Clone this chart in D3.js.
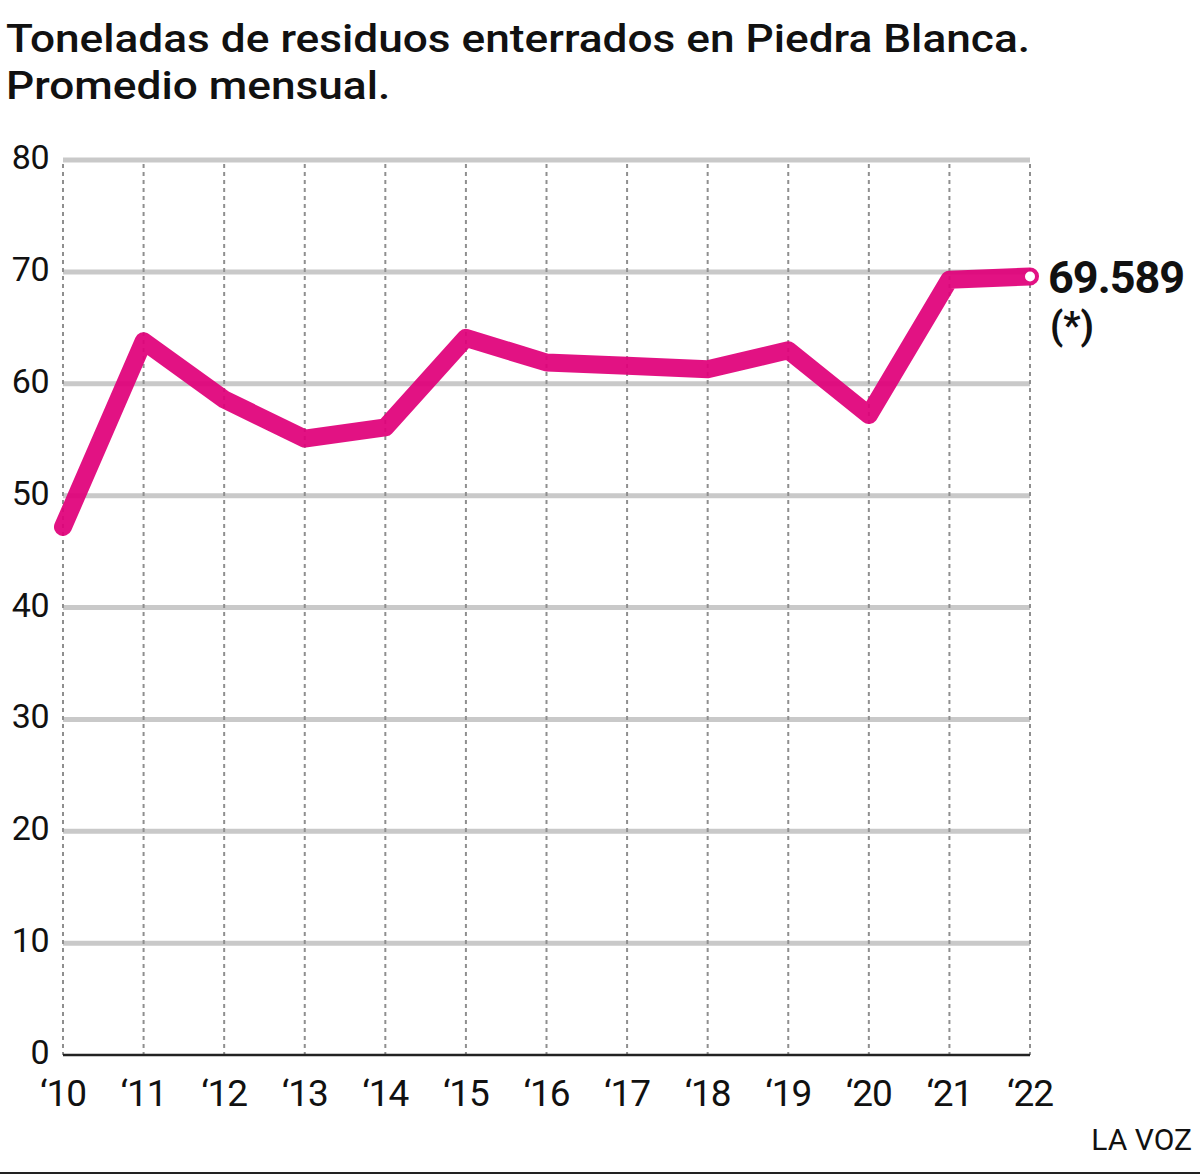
<!DOCTYPE html>
<html>
<head>
<meta charset="utf-8">
<script src="https://cdn.jsdelivr.net/npm/d3@7"></script>
<style>
  body { margin: 0; background: #fff; }
  text { font-family: Roboto, "Noto Sans", sans-serif; fill: #111; }
</style>
</head>
<body>
<div id="chart"></div>
<script>
// data
const years = ['10', '11', '12', '13', '14', '15', '16', '17', '18', '19', '20', '21', '22'];
const values = [47.2, 63.8, 58.6, 55.1, 56.1, 64.1, 61.9, 61.6, 61.3, 63.0, 57.2, 69.3, 69.589];
const yTicks = [0, 10, 20, 30, 40, 50, 60, 70, 80];
const titleLines = ['Toneladas de residuos enterrados en Piedra Blanca.', 'Promedio mensual.'];

const W = 1200, H = 1175;

const svg = d3.select('#chart')
  .append('svg')
    .attr('width', W)
    .attr('height', H);

const x = d3.scalePoint().domain(years).range([63, 1030]);
const y = d3.scaleLinear().domain([0, 80]).range([1055, 160]);

// title, squeezed so line one spans what it does in the reference
const titles = svg.selectAll('text.title')
    .data(titleLines)
    .enter()
    .append('text')
      .attr('class', 'title')
      .attr('x', 6)
      .attr('y', (d, i) => 52 + i * 47)
      .attr('font-size', 39.5)
      .attr('font-weight', 500)
      .text(d => d);

const firstLen = titles.nodes()[0].getComputedTextLength();
const squeeze = 1024 / firstLen;
titles.each(function () {
  d3.select(this)
    .attr('textLength', this.getComputedTextLength() * squeeze)
    .attr('lengthAdjust', 'spacingAndGlyphs');
});

// horizontal grid lines
svg.append('g')
  .selectAll('line')
  .data(yTicks.filter(t => t > 0))
  .enter()
  .append('line')
    .attr('x1', x('10'))
    .attr('x2', x('22'))
    .attr('y1', d => y(d))
    .attr('y2', d => y(d))
    .attr('stroke', '#c9c9c9')
    .attr('stroke-width', 5);

// vertical dotted lines
svg.append('g')
  .selectAll('line')
  .data(years)
  .enter()
  .append('line')
    .attr('x1', d => x(d))
    .attr('x2', d => x(d))
    .attr('y1', y(80) + 4)
    .attr('y2', y(0))
    .attr('stroke', '#8f8f8f')
    .attr('stroke-width', 2)
    .attr('stroke-dasharray', '4,4');

// base line
svg.append('line')
    .attr('x1', x('10'))
    .attr('x2', x('22'))
    .attr('y1', y(0))
    .attr('y2', y(0))
    .attr('stroke', '#222')
    .attr('stroke-width', 2.5);

// y labels
svg.append('g')
  .selectAll('text')
  .data(yTicks)
  .enter()
  .append('text')
    .attr('x', 49)
    .attr('y', d => y(d) + 9)
    .attr('text-anchor', 'end')
    .attr('font-size', 34)
    .attr('letter-spacing', -0.5)
    .text(d => d);

// x labels
svg.append('g')
  .selectAll('text')
  .data(years)
  .enter()
  .append('text')
    .attr('x', d => x(d))
    .attr('y', 1106)
    .attr('text-anchor', 'middle')
    .attr('font-size', 37)
    .attr('letter-spacing', -1)
    .text(d => '\u2018' + d);

// the series line
const line = d3.line()
  .x((d, i) => x(years[i]))
  .y(d => y(d));

svg.append('path')
    .datum(values)
    .attr('d', line)
    .attr('fill', 'none')
    .attr('stroke', '#e0007a')
    .attr('stroke-opacity', 0.93)
    .attr('stroke-width', 18)
    .attr('stroke-linejoin', 'round')
    .attr('stroke-linecap', 'round');

// end marker
const last = values[values.length - 1];
svg.append('circle')
    .attr('cx', x('22'))
    .attr('cy', y(last))
    .attr('r', 5)
    .attr('fill', '#fff');

// end label
svg.append('text')
    .attr('x', 1048)
    .attr('y', y(last) + 17)
    .attr('font-size', 45)
    .attr('font-weight', 'bold')
    .attr('letter-spacing', -1)
    .text(d3.format('.3f')(last));

svg.append('text')
    .attr('x', 1050)
    .attr('y', y(last) + 63)
    .attr('font-size', 38)
    .attr('font-weight', 'bold')
    .text('(*)');

// source
svg.append('text')
    .attr('x', 1192)
    .attr('y', 1150)
    .attr('text-anchor', 'end')
    .attr('font-size', 30)
    .text('LA VOZ');

// bottom rule
svg.append('line')
    .attr('x1', 0)
    .attr('x2', W)
    .attr('y1', 1173)
    .attr('y2', 1173)
    .attr('stroke', '#222')
    .attr('stroke-width', 2);
</script>
</body>
</html>
